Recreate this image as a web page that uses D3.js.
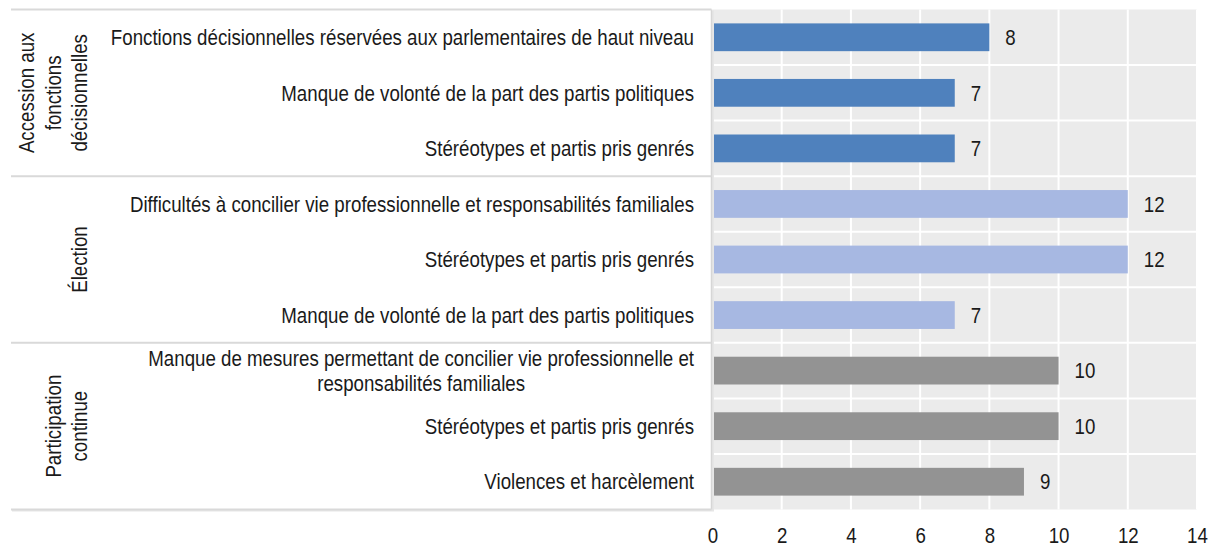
<!DOCTYPE html>
<html><head><meta charset="utf-8">
<script src="https://cdn.jsdelivr.net/npm/d3@7"></script>
<style>
html,body{margin:0;padding:0;background:#fff;}
text{font-family:"Liberation Sans",Arial,sans-serif;fill:#1a1a1a;}
</style></head>
<body>
<svg id="chart" width="1212" height="546"></svg>
<script>
const groups = [
  {name: ["Accession aux", "fonctions", "décisionnelles"], color: "#4f81bd"},
  {name: ["Élection"], color: "#a7b8e2"},
  {name: ["Participation", "continue"], color: "#939393"}
];
const categories = [
  ["Fonctions décisionnelles réservées aux parlementaires de haut niveau"],
  ["Manque de volonté de la part des partis politiques"],
  ["Stéréotypes et partis pris genrés"],
  ["Difficultés à concilier vie professionnelle et responsabilités familiales"],
  ["Stéréotypes et partis pris genrés"],
  ["Manque de volonté de la part des partis politiques"],
  ["Manque de mesures permettant de concilier vie professionnelle et", "responsabilités familiales"],
  ["Stéréotypes et partis pris genrés"],
  ["Violences et harcèlement"]
];
const groupIndex = [0, 0, 0, 1, 1, 1, 2, 2, 2];
const values = [8, 7, 7, 12, 12, 7, 10, 10, 9];
const ticks = [0, 2, 4, 6, 8, 10, 12, 14];

const svg = d3.select("#chart");
const pTop = 9.5, pBottom = 509.5, pLeft = 712.5, pRight = 1197;
const panelLeft = 11, panelRight = 711.5;
const FS = 22;
const K = 0.85; // horizontal condensation (Arial Narrow look)

// compress a text/tspan node horizontally, return its new width
function narrow(node) {
  const L = node.getComputedTextLength();
  node.setAttribute("textLength", L * K);
  node.setAttribute("lengthAdjust", "spacingAndGlyphs");
  return L * K;
}

const x = d3.scaleLinear().domain([0, 14]).range([pLeft, pRight]);
const y = d3.scaleBand().domain(d3.range(categories.length)).range([pTop, pBottom]).paddingInner(0.5).paddingOuter(0.25);
const rowY = d3.scaleBand().domain(d3.range(categories.length)).range([pTop, pBottom]);

// plot background
svg.append("rect").attr("x", pLeft).attr("y", pTop).attr("width", pRight - pLeft).attr("height", pBottom - pTop).attr("fill", "#ebebeb");
// vertical gridlines
svg.append("g").selectAll("line").data(ticks.slice(1)).join("line")
  .attr("x1", d => x(d)).attr("x2", d => x(d)).attr("y1", pTop).attr("y2", pBottom)
  .attr("stroke", "#fff").attr("stroke-width", 2);
// horizontal row separators
svg.append("g").selectAll("line").data(d3.range(1, categories.length)).join("line")
  .attr("x1", pLeft).attr("x2", pRight).attr("y1", d => rowY(d)).attr("y2", d => rowY(d))
  .attr("stroke", "#fff").attr("stroke-width", 2);

// bars
svg.append("g").selectAll("rect").data(values).join("rect")
  .attr("x", x(0)).attr("y", (d, i) => y(i)).attr("width", d => x(d) - x(0)).attr("height", y.bandwidth())
  .attr("fill", (d, i) => groups[groupIndex[i]].color);
// value labels
svg.append("g").selectAll("text").data(values).join("text")
  .attr("x", d => x(d) + 16).attr("y", (d, i) => y(i) + y.bandwidth() / 2)
  .attr("dy", "0.35em").attr("font-size", FS).text(d => d)
  .each(function() { narrow(this); });

// x tick labels
const xAxis = d3.axisBottom(x).tickValues(ticks).tickSize(0).tickPadding(0);
const ax = svg.append("g").attr("transform", `translate(0,${pBottom})`).call(xAxis);
ax.select(".domain").remove();
ax.selectAll("text").attr("font-size", FS).attr("y", 33).attr("dy", 0).attr("text-anchor", "start")
  .style("font-family", '"Liberation Sans",Arial,sans-serif').attr("fill", "#1a1a1a")
  .each(function() { const w = narrow(this); this.setAttribute("x", -w / 2); });

// label panel
svg.append("rect").attr("x", panelLeft + 1).attr("y", pTop + 1).attr("width", panelRight - panelLeft + 1.5).attr("height", pBottom - pTop + 1)
  .attr("fill", "#e6e6e6");
svg.append("rect").attr("x", panelLeft).attr("y", pTop).attr("width", panelRight - panelLeft).attr("height", pBottom - pTop)
  .attr("fill", "#fff");
svg.append("line").attr("x1", panelRight).attr("x2", panelRight).attr("y1", pTop).attr("y2", pBottom)
  .attr("stroke", "#d6d6d6").attr("stroke-width", 1.5);
const groupBounds = [0, 3, 6, 9];
svg.append("g").selectAll("line").data(groupBounds).join("line")
  .attr("x1", panelLeft).attr("x2", panelRight).attr("y1", d => d === 9 ? pBottom : rowY(d)).attr("y2", d => d === 9 ? pBottom : rowY(d))
  .attr("stroke", "#d9d9d9").attr("stroke-width", 2);

// category labels (block right-aligned, lines centred within block)
const labelRight = 694;
const lh = 25;
categories.forEach((lines, i) => {
  const cy = rowY(i) + rowY.bandwidth() / 2;
  const t = svg.append("text").attr("font-size", FS).attr("text-anchor", "start");
  const spans = lines.map((ln, k) =>
    t.append("tspan").attr("y", cy + (k - (lines.length - 1) / 2) * lh).attr("dy", "0.35em").text(ln));
  const widths = spans.map(s => narrow(s.node()));
  const bw = d3.max(widths);
  spans.forEach((s, k) => s.attr("x", labelRight - bw + (bw - widths[k]) / 2));
});

// group labels (rotated, multi-line, centred)
groups.forEach((g, gi) => {
  const y0 = rowY(groupBounds[gi]);
  const y1 = groupBounds[gi + 1] === 9 ? pBottom : rowY(groupBounds[gi + 1]);
  const cy = (y0 + y1) / 2;
  const n = g.name.length;
  const t = svg.append("text").attr("font-size", FS).attr("text-anchor", "start")
    .attr("transform", `translate(0,${cy}) rotate(-90)`);
  g.name.forEach((ln, k) => {
    const bx = 87 - (n - 1 - k) * 26.5;
    const s = t.append("tspan").attr("y", bx).text(ln);
    const w = narrow(s.node());
    s.attr("x", -w / 2);
  });
});
</script>
</body></html>
